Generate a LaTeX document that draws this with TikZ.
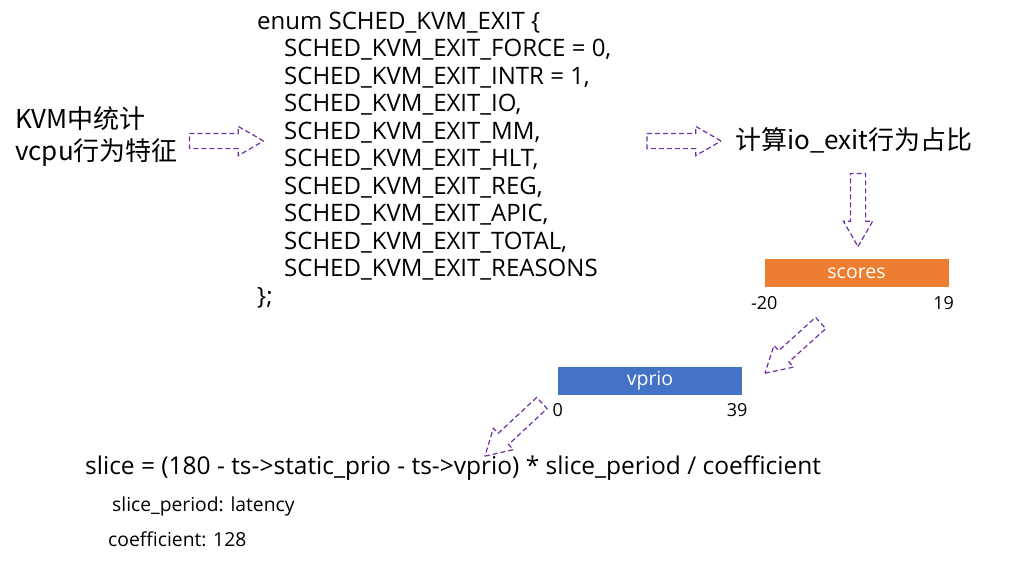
\documentclass[tikz,border=0pt]{standalone}
\usepackage{fontspec}
\setmainfont{Open Sans}
\newfontfamily\cjk{Noto Sans CJK SC}
\usetikzlibrary{shapes.arrows, positioning}
\definecolor{darkpurple}{RGB}{112,48,160}
\definecolor{barorange}{RGB}{237,125,49}
\definecolor{barblue}{RGB}{68,114,196}

\begin{document}
\begin{tikzpicture}[
  x=1pt, y=-1pt,
  txt/.style={inner sep=0pt, anchor=west, align=left},
  flowarrow/.style={single arrow, draw=darkpurple, line width=1.2pt,
                    dash pattern=on 5pt off 3pt, single arrow head extend=7pt,
                    single arrow tip angle=60, inner xsep=0pt, inner ysep=7pt,
                    minimum height=74pt},
  bar/.style={rectangle, inner sep=0pt, minimum width=184pt, minimum height=28pt,
              text=white, font=\fontsize{19.5}{22}\selectfont},
  tick/.style={inner sep=0pt, font=\fontsize{18}{20}\selectfont}
]
\useasboundingbox (0,0) rectangle (1023,562);

\node[txt, font=\cjk\fontsize{26}{32}\selectfont] (kvm) at (15,137)
  {KVM中统计\\vcpu行为特征};

\node[txt, anchor=north west, font=\fontsize{24}{27.5}\selectfont] (enum) at (257,11.5)
  {enum SCHED\_KVM\_EXIT \{\\
   \hspace*{27pt}SCHED\_KVM\_EXIT\_FORCE = 0,\\
   \hspace*{27pt}SCHED\_KVM\_EXIT\_INTR = 1,\\
   \hspace*{27pt}SCHED\_KVM\_EXIT\_IO,\\
   \hspace*{27pt}SCHED\_KVM\_EXIT\_MM,\\
   \hspace*{27pt}SCHED\_KVM\_EXIT\_HLT,\\
   \hspace*{27pt}SCHED\_KVM\_EXIT\_REG,\\
   \hspace*{27pt}SCHED\_KVM\_EXIT\_APIC,\\
   \hspace*{27pt}SCHED\_KVM\_EXIT\_TOTAL,\\
   \hspace*{27pt}SCHED\_KVM\_EXIT\_REASONS\\
   \};};

\node[txt, font=\cjk\fontsize{26}{30}\selectfont] (ratio) at (735,140)
  {计算io\_exit行为占比};

\node[bar, fill=barorange] (scores) at (856.5,273) {scores};
\node[tick, below=9pt of scores.south west] (smin) {-20};
\node[tick, below=9pt of scores.south east, xshift=-5pt] (smax) {19};

\node[bar, fill=barblue] (vprio) at (650,380.5) {vprio};
\node[tick, below=9pt of vprio.south west] (vmin) {0};
\node[tick, below=9pt of vprio.south east, xshift=-5pt] (vmax) {39};

\node[txt, font=\fontsize{24.5}{28}\selectfont] (slice) at (85,468)
  {slice = (180 - ts->static\_prio - ts->vprio) * slice\_period / coefficient};
\node[txt, font=\fontsize{19.3}{22}\selectfont] (period) at (112,506)
  {slice\_period: latency};
\node[txt, font=\fontsize{19.3}{22}\selectfont] (coef) at (108,539)
  {coefficient: 128};

% block arrows between the steps
\node[flowarrow] (a1) at (220,141) {};
\node[flowarrow] (a2) at (677.5,141) {};
\node[flowarrow, rotate=-90, minimum height=73pt] (a3) at (858,203.5) {};
\node[flowarrow, rotate=-138, minimum height=75pt] (a4) at (797.7,343.7) {};
\node[flowarrow, rotate=-137, minimum height=78pt] (a5) at (518.2,425.1) {};

\end{tikzpicture}
\end{document}
